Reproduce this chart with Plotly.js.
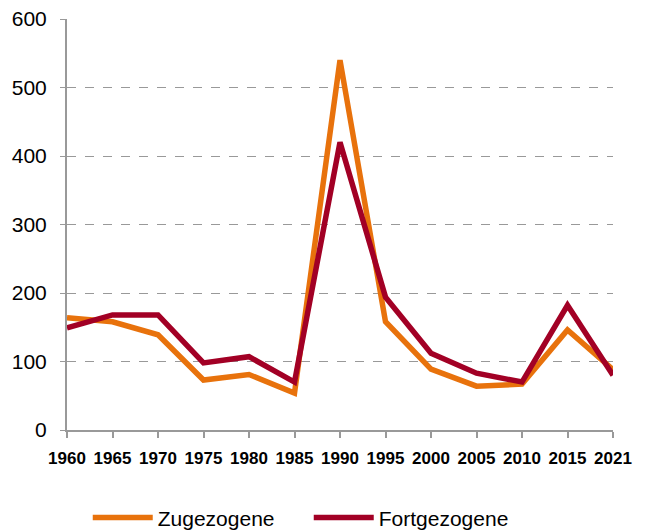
<!DOCTYPE html>
<html>
<head>
<meta charset="utf-8">
<script src="https://cdn.plot.ly/plotly-3.0.1.min.js"></script>
<style>html,body{margin:0;padding:0;background:#fff;}#chart{width:648px;height:530px;}</style>
</head>
<body>
<div id="chart"></div>
<script>
const years = ["1960","1965","1970","1975","1980","1985","1990","1995","2000","2005","2010","2015","2021"];
const zugezogene = [164, 158, 139, 73, 81, 54, 540, 158, 89, 64, 67, 146, 88];
const fortgezogene = [149, 168, 168, 98, 107, 70, 420, 194, 112, 83, 70, 182, 80];

const FONT = "Arial, 'Liberation Sans', sans-serif";

const traces = [
  {x: years, y: zugezogene, name: "Zugezogene", type: "scatter", mode: "lines",
   line: {color: "#E8720C", width: 5.5}},
  {x: years, y: fortgezogene, name: "Fortgezogene", type: "scatter", mode: "lines",
   line: {color: "#A20025", width: 5.5}}
];

const layout = {
  width: 648, height: 530,
  margin: {l: 67, r: 35, t: 19, b: 100},
  paper_bgcolor: "#fff", plot_bgcolor: "#fff",
  showlegend: true,
  legend: {orientation: "h", xref: "paper", x: 0.038, xanchor: "left",
           yref: "container", y: 0.023, yanchor: "middle",
           font: {family: FONT, size: 21, color: "#000"},
           itemwidth: 60, entrywidth: 146, entrywidthmode: "pixels",
           bgcolor: "rgba(0,0,0,0)"},
  xaxis: {type: "category", range: [0, 12], showgrid: false, zeroline: false,
          showline: true, linecolor: "#999", linewidth: 2,
          ticks: "outside", ticklen: 6, tickcolor: "#999", tickwidth: 2,
          ticklabelstandoff: 6,
          tickfont: {family: FONT, size: 17, color: "#000", weight: "bold"}},
  yaxis: {range: [0, 600], dtick: 100, showgrid: true, gridcolor: "#999", griddash: "dash", gridwidth: 1,
          zeroline: false, showline: true, linecolor: "#999", linewidth: 2,
          ticks: "outside", ticklen: 5, tickcolor: "#999", tickwidth: 1,
          ticklabelstandoff: 9,
          tickfont: {family: FONT, size: 21, color: "#000"}}
};

Plotly.newPlot("chart", traces, layout, {displayModeBar: false, staticPlot: true});
</script>
</body>
</html>
